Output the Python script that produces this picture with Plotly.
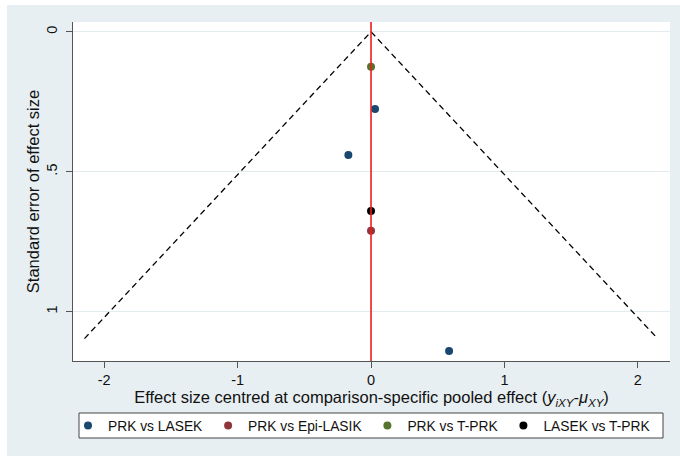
import plotly.graph_objects as go

# Comparison-adjusted funnel plot data
comparisons = ["PRK vs LASEK", "PRK vs Epi-LASIK", "PRK vs T-PRK", "LASEK vs T-PRK"]
colors = ["#1a476f", "#90353b", "#55752f", "#000000"]

# centred effect sizes (y_iXY - mu_XY) and their standard errors, per comparison
effects = {
    "PRK vs LASEK": [0.03, -0.17, 0.585],
    "PRK vs Epi-LASIK": [0.0],
    "PRK vs T-PRK": [0.0],
    "LASEK vs T-PRK": [0.0],
}
std_errors = {
    "PRK vs LASEK": [0.276, 0.44, 1.14],
    "PRK vs Epi-LASIK": [0.711],
    "PRK vs T-PRK": [0.125],
    "LASEK vs T-PRK": [0.64],
}

# pseudo 95% confidence limits
z95 = 1.96
se_max = 1.096

x_ticks = [-2, -1, 0, 1, 2]
y_ticks = [0, 0.5, 1]
y_ticktext = ["0", ".5", "1"]

W, H = 680, 456
L, R, T, B = 73, 10, 22, 95
pw, ph = W - L - R, H - T - B

def px_x(p):
    return (p - L) / pw

def px_y(p):
    return (H - B - p) / ph

font = "Liberation Sans, Arial, sans-serif"
bg = "#e8eff2"

fig = go.Figure()

# funnel limits
fig.add_trace(go.Scatter(
    x=[-z95 * se_max, 0, z95 * se_max], y=[se_max, 0, se_max],
    mode="lines", line=dict(color="black", width=1.3, dash="6px,4px"),
    showlegend=False, hoverinfo="skip",
))

for name, c in zip(comparisons, colors):
    fig.add_trace(go.Scatter(
        x=effects[name], y=std_errors[name], mode="markers", name=name,
        marker=dict(color=c, size=8, line=dict(width=0)),
    ))

# pooled effect reference line
fig.add_shape(type="line", xref="x", yref="paper", x0=0, x1=0, y0=0, y1=1,
              line=dict(color="#ee1c1c", width=1.6), layer="above")

# outer white strips around the graph region
fig.add_shape(type="rect", xref="paper", yref="paper",
              x0=px_x(0), x1=px_x(W), y0=px_y(5), y1=px_y(0),
              fillcolor="white", line=dict(width=0), layer="below")
fig.add_shape(type="rect", xref="paper", yref="paper",
              x0=px_x(0), x1=px_x(7), y0=px_y(H), y1=px_y(0),
              fillcolor="white", line=dict(width=0), layer="below")

# legend frame
fig.add_shape(type="rect", xref="paper", yref="paper",
              x0=px_x(79), x1=px_x(663), y0=px_y(438), y1=px_y(413),
              fillcolor="white", line=dict(color="#444444", width=1), layer="below")

fig.update_layout(
    width=W, height=H,
    margin=dict(l=L, r=R, t=T, b=B),
    paper_bgcolor=bg, plot_bgcolor="white",
    font=dict(family=font, size=14, color="#111111"),
    showlegend=True,
    legend=dict(
        orientation="h", x=px_x(68), xanchor="left", y=px_y(425.5), yanchor="middle",
        bgcolor="rgba(0,0,0,0)", borderwidth=0, itemwidth=30,
        font=dict(family=font, size=13.8, color="#111111"), tracegroupgap=0,
    ),
    xaxis=dict(
        range=[-2.234, 2.241], tickvals=x_ticks, ticktext=[str(v) for v in x_ticks],
        showgrid=False, zeroline=False, showline=True, linecolor="#555555", linewidth=1,
        ticks="outside", ticklen=6, tickcolor="#555555", ticklabelstandoff=0,
        tickfont=dict(size=14.5),
        title=dict(
            text="Effect size centred at comparison-specific pooled effect "
                 "(<i>y<sub>iXY</sub></i>-<i>μ<sub>XY</sub></i>)",
            font=dict(size=16.5), standoff=0,
        ),
    ),
    yaxis=dict(
        range=[1.176, -0.035], tickvals=y_ticks, ticktext=y_ticktext, tickangle=-90,
        showgrid=True, gridcolor="#e3ebee", gridwidth=1, zeroline=False,
        showline=True, linecolor="#555555", linewidth=1,
        ticks="outside", ticklen=6, tickcolor="#555555", ticklabelstandoff=3,
        tickfont=dict(size=14.5),
        title=dict(text="Standard error of effect size", font=dict(size=16.5), standoff=0),
    ),
)

fig.write_html("out.html")
